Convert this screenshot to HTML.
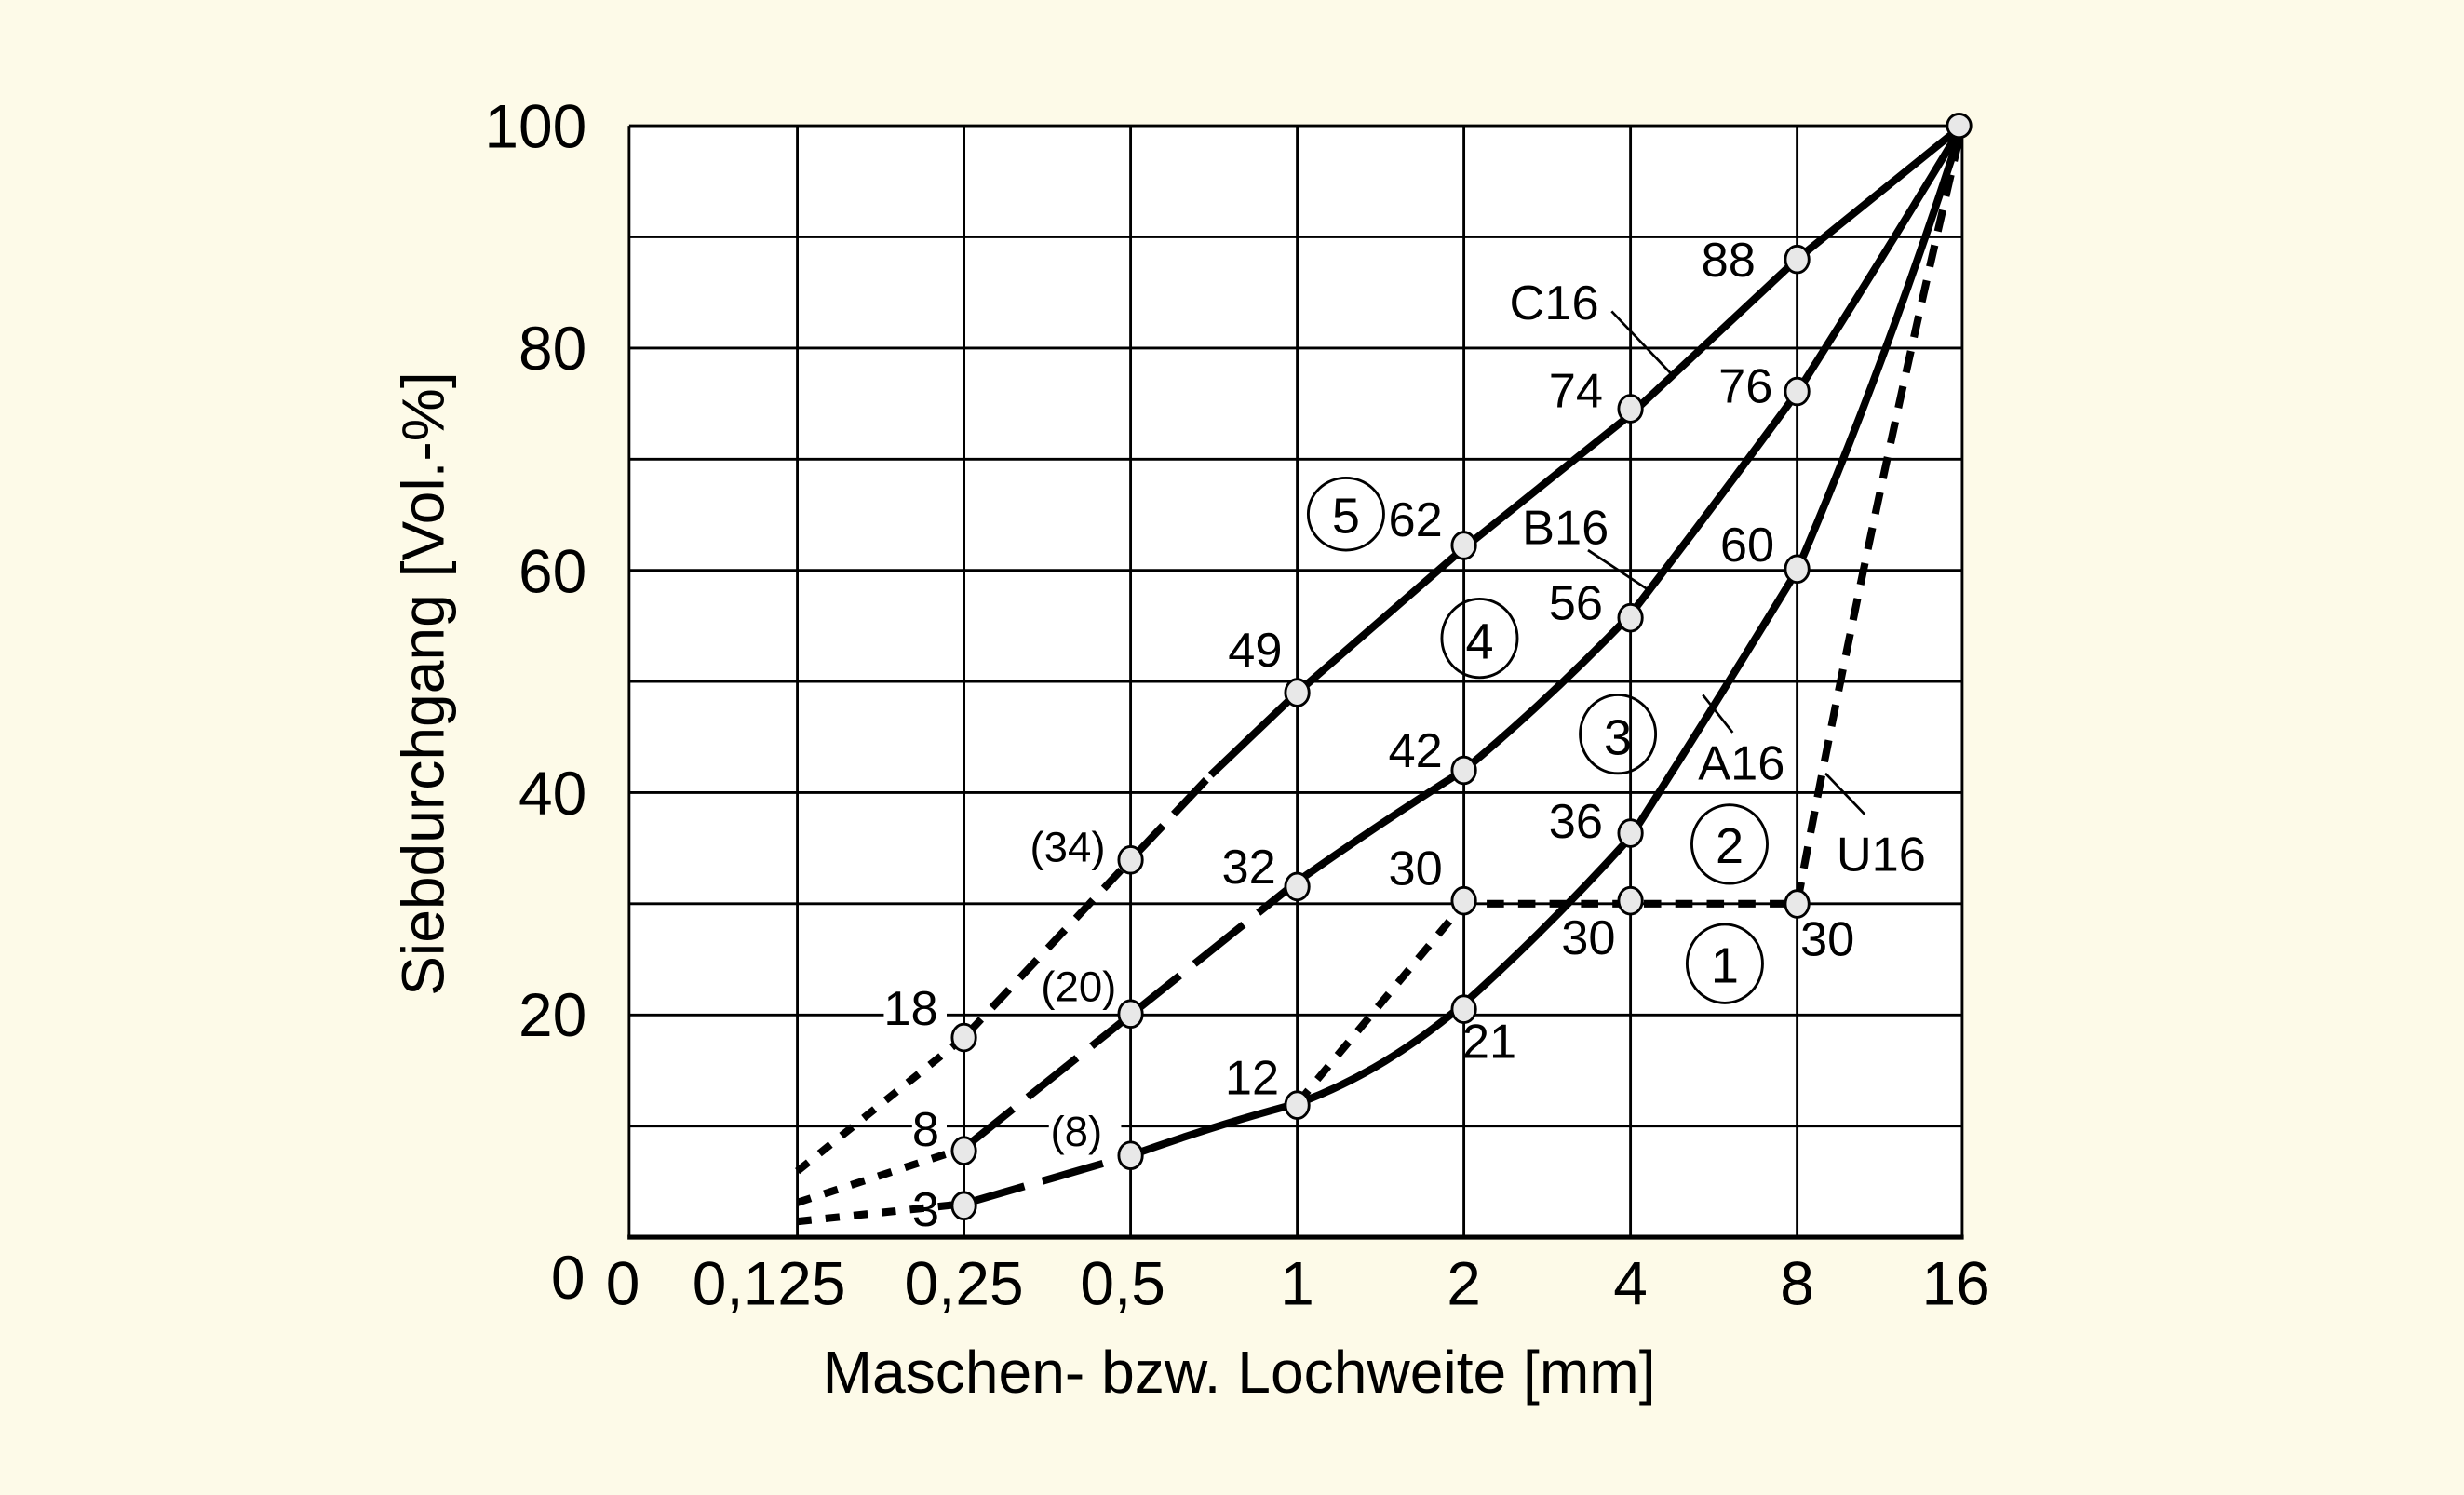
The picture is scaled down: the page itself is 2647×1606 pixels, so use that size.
<!DOCTYPE html>
<html><head><meta charset="utf-8"><style>
html,body{margin:0;padding:0;background:#fdfae8;}
svg{display:block;}
text{font-family:"Liberation Sans",sans-serif;fill:#000;}
</style></head><body>
<svg width="2647" height="1606" viewBox="0 0 1567 951" xmlns="http://www.w3.org/2000/svg">
<rect x="0" y="0" width="1567" height="951" fill="#fdfae8"/>
<rect x="400" y="80" width="848" height="707" fill="#fff"/>
<g stroke="#000" stroke-width="1.7">
<line x1="507" y1="80" x2="507" y2="787"/><line x1="613" y1="80" x2="613" y2="787"/>
<line x1="719" y1="80" x2="719" y2="787"/><line x1="825" y1="80" x2="825" y2="787"/>
<line x1="931" y1="80" x2="931" y2="787"/><line x1="1037" y1="80" x2="1037" y2="787"/>
<line x1="1143" y1="80" x2="1143" y2="787"/><line x1="1248" y1="80" x2="1248" y2="787"/>
<line x1="400" y1="80" x2="1248" y2="80"/><line x1="400" y1="150.7" x2="1248" y2="150.7"/>
<line x1="400" y1="221.4" x2="1248" y2="221.4"/><line x1="400" y1="292.1" x2="1248" y2="292.1"/>
<line x1="400" y1="362.8" x2="1248" y2="362.8"/><line x1="400" y1="433.5" x2="1248" y2="433.5"/>
<line x1="400" y1="504.2" x2="1248" y2="504.2"/><line x1="400" y1="574.9" x2="1248" y2="574.9"/>
<line x1="400" y1="645.6" x2="1248" y2="645.6"/><line x1="400" y1="716.3" x2="1248" y2="716.3"/>
<line x1="400" y1="80" x2="400" y2="787"/>
</g>
<line x1="399" y1="787" x2="1249" y2="787" stroke="#000" stroke-width="3"/>
<!-- label backgrounds -->
<g fill="#fff">
<rect x="562" y="628" width="40" height="30"/><rect x="580" y="705" width="22" height="30"/>
<rect x="580" y="755" width="22" height="30"/><rect x="667" y="705" width="46" height="30"/>
</g>
<g fill="none" stroke="#000" stroke-width="4.8" stroke-linejoin="round">
<!-- C16 -->
<polyline points="507,745 613,660" stroke-dasharray="9,9"/>
<polyline points="613,660 719,547" stroke-dasharray="16,10"/>
<polyline points="719,547 770,493" stroke-dasharray="30,10"/>
<polyline points="770,493 825,440.6 931,348.7 1037,263.8 1143,164.8 1248,80"/>
<!-- B16 -->
<polyline points="507,765 613,730.4" stroke-dasharray="9,9"/>
<polyline points="613,730.4 719,645.6" stroke-dasharray="40,12"/>
<polyline points="719,645.6 825,560.8" stroke-dasharray="40,12"/>
<path d="M825,560.8 Q880,522 931,490 Q985,445 1037,391 Q1090,322 1143,249.7 Q1200,160 1248,80"/>
<!-- A16 -->
<polyline points="507,777 613,765.8" stroke-dasharray="9,9"/>
<polyline points="613,765.8 719,735" stroke-dasharray="40,12"/>
<path d="M719,735 Q775,715 825,702 Q880,682 931,638.5 Q985,590 1037,532.5 Q1090,450 1143,362.8 Q1200,230 1248,80"/>
<!-- U16 -->
<polyline points="825,702 931,574.9 1143,574.9" stroke-dasharray="11,9"/>
<path d="M1143,574.9 Q1185,350 1248,80" stroke-dasharray="14,9"/>
</g>
<!-- leaders -->
<g stroke="#000" stroke-width="1.6">
<line x1="1025" y1="198" x2="1065" y2="240"/>
<line x1="1010" y1="350" x2="1048" y2="375"/>
<line x1="1083" y1="442" x2="1102" y2="466"/>
<line x1="1161" y1="492" x2="1186" y2="518"/>
</g>
<g fill="#e8e8e8" stroke="#000" stroke-width="1.7">
<ellipse cx="613" cy="660" rx="7.5" ry="8.5"/><ellipse cx="719" cy="547" rx="7.5" ry="8.5"/>
<ellipse cx="825" cy="440.6" rx="7.5" ry="8.5"/><ellipse cx="931" cy="347" rx="7.5" ry="8.5"/>
<ellipse cx="1037" cy="260" rx="7.5" ry="8.5"/><ellipse cx="1143" cy="165" rx="7.5" ry="8.5"/>
<ellipse cx="1246" cy="80" rx="7.5" ry="7.5"/>
<ellipse cx="613" cy="732" rx="7.5" ry="8.5"/><ellipse cx="719" cy="645" rx="7.5" ry="8.5"/>
<ellipse cx="825" cy="564" rx="7.5" ry="8.5"/><ellipse cx="931" cy="490" rx="7.5" ry="8.5"/>
<ellipse cx="1037" cy="393" rx="7.5" ry="8.5"/><ellipse cx="1143" cy="249" rx="7.5" ry="8.5"/>
<ellipse cx="613" cy="767" rx="7.5" ry="8.5"/><ellipse cx="719" cy="735" rx="7.5" ry="8.5"/>
<ellipse cx="825" cy="703" rx="7.5" ry="8.5"/><ellipse cx="931" cy="642" rx="7.5" ry="8.5"/>
<ellipse cx="1037" cy="530" rx="7.5" ry="8.5"/><ellipse cx="1143" cy="362" rx="7.5" ry="8.5"/>
<ellipse cx="931" cy="573" rx="7.5" ry="8.5"/><ellipse cx="1037" cy="573" rx="7.5" ry="8.5"/>
<ellipse cx="1143" cy="575" rx="7.5" ry="8.5"/>
</g>
<g font-size="31">
<text x="1082" y="176">88</text><text x="985" y="259">74</text>
<text x="1093" y="256">76</text><text x="960" y="203">C16</text>
<text x="883" y="341">62</text><text x="968" y="346">B16</text>
<text x="1094" y="357">60</text><text x="781" y="424">49</text>
<text x="985" y="394">56</text><text x="883" y="488">42</text>
<text x="1080" y="496">A16</text><text x="985" y="533">36</text>
<text x="1168" y="554">U16</text><text x="655" y="548" font-size="27">(34)</text>
<text x="777" y="562">32</text><text x="883" y="563">30</text>
<text x="993" y="607">30</text><text x="1145" y="608">30</text>
<text x="562" y="652">18</text><text x="662" y="637" font-size="27">(20)</text>
<text x="930" y="673">21</text><text x="779" y="696">12</text>
<text x="580" y="729">8</text><text x="668" y="729" font-size="27">(8)</text>
<text x="580" y="780">3</text>
</g>
<g fill="none" stroke="#000" stroke-width="1.7">
<ellipse cx="856" cy="327" rx="24" ry="23"/><ellipse cx="941" cy="406" rx="24" ry="25"/>
<ellipse cx="1029" cy="467" rx="24" ry="25"/><ellipse cx="1100" cy="537" rx="24" ry="25"/>
<ellipse cx="1097" cy="613" rx="24" ry="25"/>
</g>
<g font-size="32" text-anchor="middle">
<text x="856" y="339">5</text><text x="941" y="419">4</text>
<text x="1029" y="480">3</text><text x="1100" y="549">2</text>
<text x="1097" y="625">1</text>
</g>
<g font-size="39" text-anchor="end">
<text x="373" y="94">100</text><text x="373" y="235">80</text>
<text x="373" y="377">60</text><text x="373" y="518">40</text>
<text x="373" y="659">20</text><text x="372" y="826">0</text>
</g>
<g font-size="39" text-anchor="middle">
<text x="396" y="830">0</text><text x="489" y="830">0,125</text>
<text x="613" y="830">0,25</text><text x="714" y="830">0,5</text>
<text x="825" y="830">1</text><text x="931" y="830">2</text>
<text x="1037" y="830">4</text><text x="1143" y="830">8</text>
<text x="1244" y="830">16</text>
<text x="788" y="886" font-size="38">Maschen- bzw. Lochweite [mm]</text>
<text transform="translate(282,435) rotate(-90)" font-size="38">Siebdurchgang [Vol.-%]</text>
</g>
</svg>
</body></html>
